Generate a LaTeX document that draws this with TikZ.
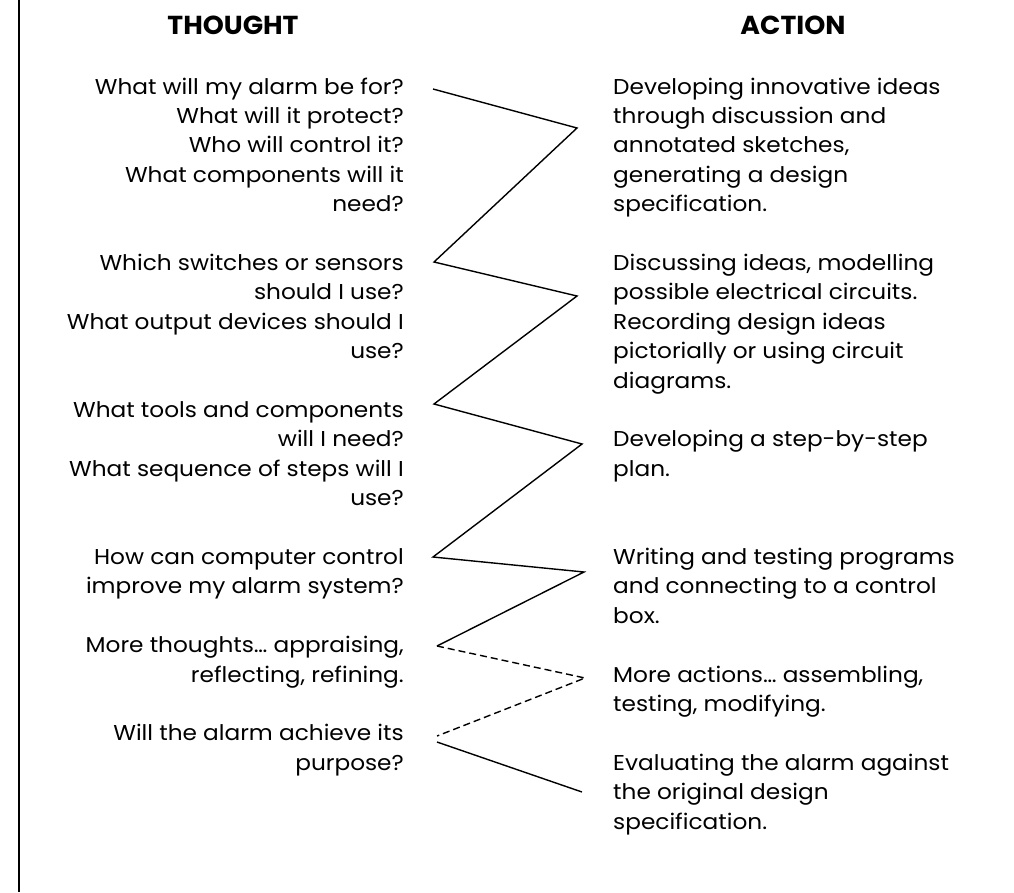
\documentclass[tikz,border=0pt]{standalone}
\usepackage{fontspec}
\setmainfont{Poppins}[FakeStretch=1.08]
\newfontfamily\hdfam{Poppins}[FakeStretch=1.03]
\newcommand\txtfont{\fontsize{21.5}{29.4}\selectfont}
\newcommand\hdfont{\hdfam\fontsize{26}{30}\selectfont\bfseries}
\newcommand\lblock[1]{\begin{tabular}[t]{@{}r@{}}#1\end{tabular}}
\newcommand\rblock[1]{\begin{tabular}[t]{@{}l@{}}#1\end{tabular}}
\begin{document}
\begin{tikzpicture}[x=1pt,y=-1pt,
  thought/.style={anchor=base east, inner sep=0pt, font=\txtfont},
  action/.style={anchor=base west, inner sep=0pt, font=\txtfont},
  head/.style={anchor=base, inner sep=0pt, font=\hdfont},
  zig/.style={line width=1.4pt, line join=miter},
  zigdash/.style={zig, dash pattern=on 7pt off 4pt},
  frame/.style={line width=1.7pt}]
\useasboundingbox (0,0) rectangle (1014,892);
\fill[white] (0,0) rectangle (1014,892);
% left frame line
\coordinate (ft) at (19.2,0);
\coordinate (fb) at (19.2,892);
\draw[frame] (ft) -- (fb);
% headers
\node[head] (hthought) at (233,34) {THOUGHT};
\node[head] (haction) at (793,34) {ACTION};
% thought texts
\node[thought] (t1) at (404,94) {\lblock{What will my alarm be for?\\What will it protect?\\Who will control it?\\What components will it\\need?}};
\node[thought] (t2) at (404,270.4) {\lblock{Which switches or sensors\\should I use?\\What output devices should I\\use?}};
\node[thought] (t3) at (404,417.4) {\lblock{What tools and components\\will I need?\\What sequence of steps will I\\use?}};
\node[thought] (t4) at (404,564.4) {\lblock{How can computer control\\improve my alarm system?}};
\node[thought] (t5) at (404,652.6) {\lblock{More thoughts… appraising,\\reflecting, refining.}};
\node[thought] (t6) at (404,740.8) {\lblock{Will the alarm achieve its\\purpose?}};
% action texts
\node[action] (a1) at (613,94) {\rblock{Developing innovative ideas\\through discussion and\\annotated sketches,\\generating a design\\specification.}};
\node[action] (a2) at (613,270.4) {\rblock{Discussing ideas, modelling\\possible electrical circuits.\\Recording design ideas\\pictorially or using circuit\\diagrams.}};
\node[action] (a3) at (613,446.8) {\rblock{Developing a step-by-step\\plan.}};
\node[action] (a4) at (613,564.4) {\rblock{Writing and testing programs\\and connecting to a control\\box.}};
\node[action] (a5) at (613,682) {\rblock{More actions… assembling,\\testing, modifying.}};
\node[action] (a6) at (613,770.2) {\rblock{Evaluating the alarm against\\the original design\\specification.}};
% zigzag vertices
\coordinate (z0) at (433,89);
\coordinate (z1) at (577,128);
\coordinate (z2) at (434,262);
\coordinate (z3) at (577,296);
\coordinate (z4) at (434,404);
\coordinate (z5) at (582,444);
\coordinate (z6) at (433,557);
\coordinate (z7) at (584,572);
\coordinate (z8) at (437,646);
\coordinate (z9) at (585,678);
\coordinate (z10) at (437,736);
\coordinate (z11) at (437,742);
\coordinate (z12) at (582,792);
\draw[zig] (z0) -- (z1) -- (z2) -- (z3) -- (z4) -- (z5) -- (z6) -- (z7) -- (z8);
\draw[zigdash] (z8) -- (z9) -- (z10);
\draw[zig] (z11) -- (z12);
\end{tikzpicture}
\end{document}
